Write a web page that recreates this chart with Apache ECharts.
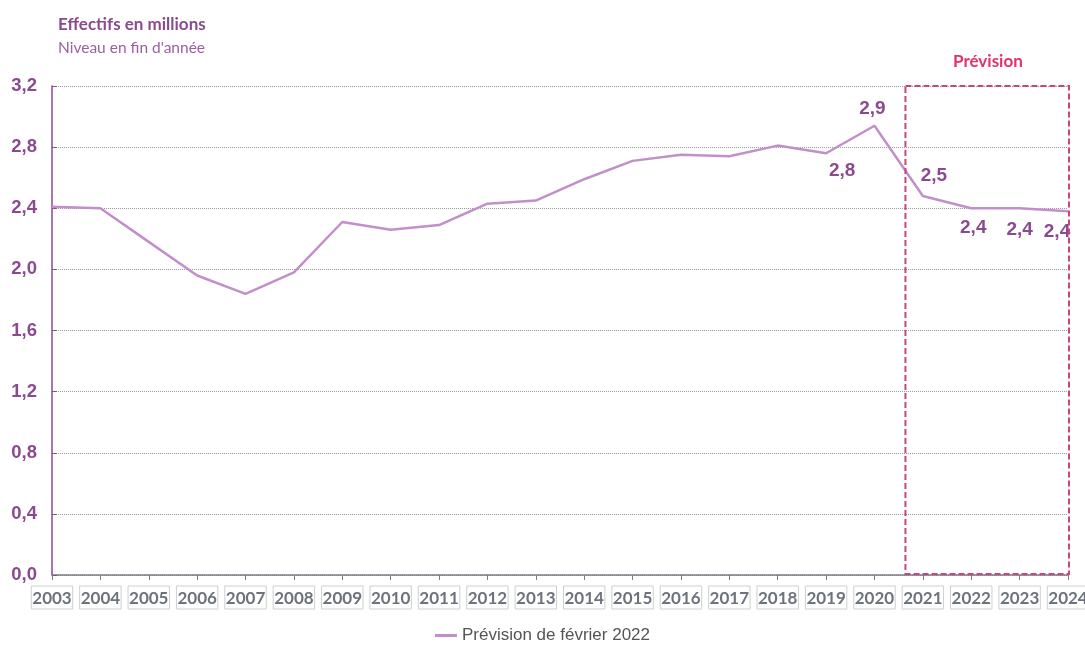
<!DOCTYPE html>
<html>
<head>
<meta charset="utf-8">
<script src="https://cdn.jsdelivr.net/npm/echarts@6/dist/echarts.min.js"></script>
<style>
  html, body { margin: 0; padding: 0; background: #fff; }
  #chart { width: 1085px; height: 651px; }
</style>
</head>
<body>
<div id="chart"></div>
<script>
var years = ["2003", "2004", "2005", "2006", "2007", "2008", "2009", "2010", "2011", "2012", "2013",
  "2014", "2015", "2016", "2017", "2018", "2019", "2020", "2021", "2022", "2023", "2024"];
var effectifs = [2.41, 2.40, 2.18, 1.96, 1.84, 1.98, 2.31, 2.26, 2.29, 2.43, 2.45,
  2.59, 2.71, 2.75, 2.74, 2.81, 2.76, 2.94, 2.48, 2.40, 2.40, 2.38];
var labelledYears = ["2019", "2020", "2021", "2022", "2023", "2024"];
var yTicks = [0, 0.4, 0.8, 1.2, 1.6, 2.0, 2.4, 2.8, 3.2];

// where each value label sits relative to its point
var labelOffsets = {
  "2019": [16, 18], "2020": [-2, -17], "2021": [11, -20],
  "2022": [2, 20], "2023": [0, 22], "2024": [-11, 20]
};

function fmt(v) { return v.toFixed(1).replace(".", ","); }

var chart = echarts.init(document.getElementById("chart"));

var seriesData = effectifs.map(function (v, i) {
  var y = years[i];
  if (labelledYears.indexOf(y) < 0) return v;
  return {
    value: v,
    label: {
      show: true,
      position: "inside",
      offset: labelOffsets[y],
      formatter: function (p) { return fmt(p.value); },
      color: "#8a4a8f",
      fontFamily: "Liberation Sans",
      fontWeight: "bold",
      fontSize: 19
    }
  };
});

chart.setOption({
  animation: false,
  grid: { left: 52, right: 17, top: 86, bottom: 76, outerBoundsMode: "none", containLabel: false },
  title: [
    {
      text: "Effectifs en millions",
      left: 53, top: 11,
      textStyle: { fontFamily: "Lato", fontWeight: "bold", fontSize: 17, color: "#8a4a8f" }
    },
    {
      text: "Niveau en fin d'année",
      left: 53, top: 35,
      textStyle: { fontFamily: "Lato", fontWeight: "normal", fontSize: 15.5, color: "#9a5f9e" }
    },
    {
      text: "Prévision",
      left: 948, top: 48,
      textStyle: { fontFamily: "Lato", fontWeight: "bold", fontSize: 17, color: "#e0336b" }
    }
  ],
  legend: {
    bottom: 2,
    left: "center",
    itemWidth: 22,
    itemHeight: 3,
    itemGap: 2,
    icon: "rect",
    textStyle: { fontFamily: "Liberation Sans", fontSize: 17, color: "#555" },
    data: ["Prévision de février 2022"]
  },
  xAxis: {
    type: "category",
    data: years,
    boundaryGap: false,
    axisLine: { lineStyle: { color: "#7a7f87", width: 1.5 } },
    axisTick: { show: true, alignWithLabel: true, length: 5, lineStyle: { color: "#7a7f87" } },
    axisLabel: {
      margin: 11,
      interval: 0,
      fontFamily: "Lato",
      fontWeight: "bold",
      fontSize: 17,
      color: "#6d737c",
      borderColor: "#cfcfcf",
      borderWidth: 1,
      padding: [4, 1, 2, 1]
    },
    splitLine: { show: false }
  },
  yAxis: {
    type: "value",
    min: yTicks[0],
    max: yTicks[yTicks.length - 1],
    interval: 0.4,
    axisLine: { show: true, lineStyle: { color: "#8a4a8f", width: 1.5 } },
    axisTick: { show: true, inside: true, length: 5, lineStyle: { color: "#8a4a8f" } },
    axisLabel: {
      margin: 15,
      formatter: fmt,
      fontFamily: "Liberation Sans",
      fontWeight: "bold",
      fontSize: 18.5,
      color: "#8a4a8f"
    },
    splitLine: { show: true, lineStyle: { color: "#9a9a9a", type: [1, 1], width: 1 } }
  },
  series: [{
    name: "Prévision de février 2022",
    type: "line",
    data: seriesData,
    symbol: "circle",
    symbolSize: 0.1,
    showSymbol: true,
    lineStyle: { color: "#c28fca", width: 2.5 },
    itemStyle: { color: "#c28fca" }
  }]
});

// dashed "Prévision" frame around the forecast years
function drawFrame() {
  var i20 = years.indexOf("2020"), last = years.length - 1;
  var p20 = chart.convertToPixel({ xAxisIndex: 0 }, years[i20]);
  var p21 = chart.convertToPixel({ xAxisIndex: 0 }, years[i20 + 1]);
  var pEnd = chart.convertToPixel({ xAxisIndex: 0 }, years[last]);
  var yTop = chart.convertToPixel({ yAxisIndex: 0 }, yTicks[yTicks.length - 1]);
  var yBot = chart.convertToPixel({ yAxisIndex: 0 }, yTicks[0]);
  var x0 = p20 + (p21 - p20) * 0.64;
  chart.setOption({
    graphic: [{
      type: "rect",
      shape: { x: x0, y: yTop, width: pEnd + 1 - x0, height: yBot - yTop - 1 },
      style: { fill: null, stroke: "#c8467a", lineWidth: 2, lineDash: [6, 3] },
      z: 10
    }]
  });
}
drawFrame();
</script>
</body>
</html>
